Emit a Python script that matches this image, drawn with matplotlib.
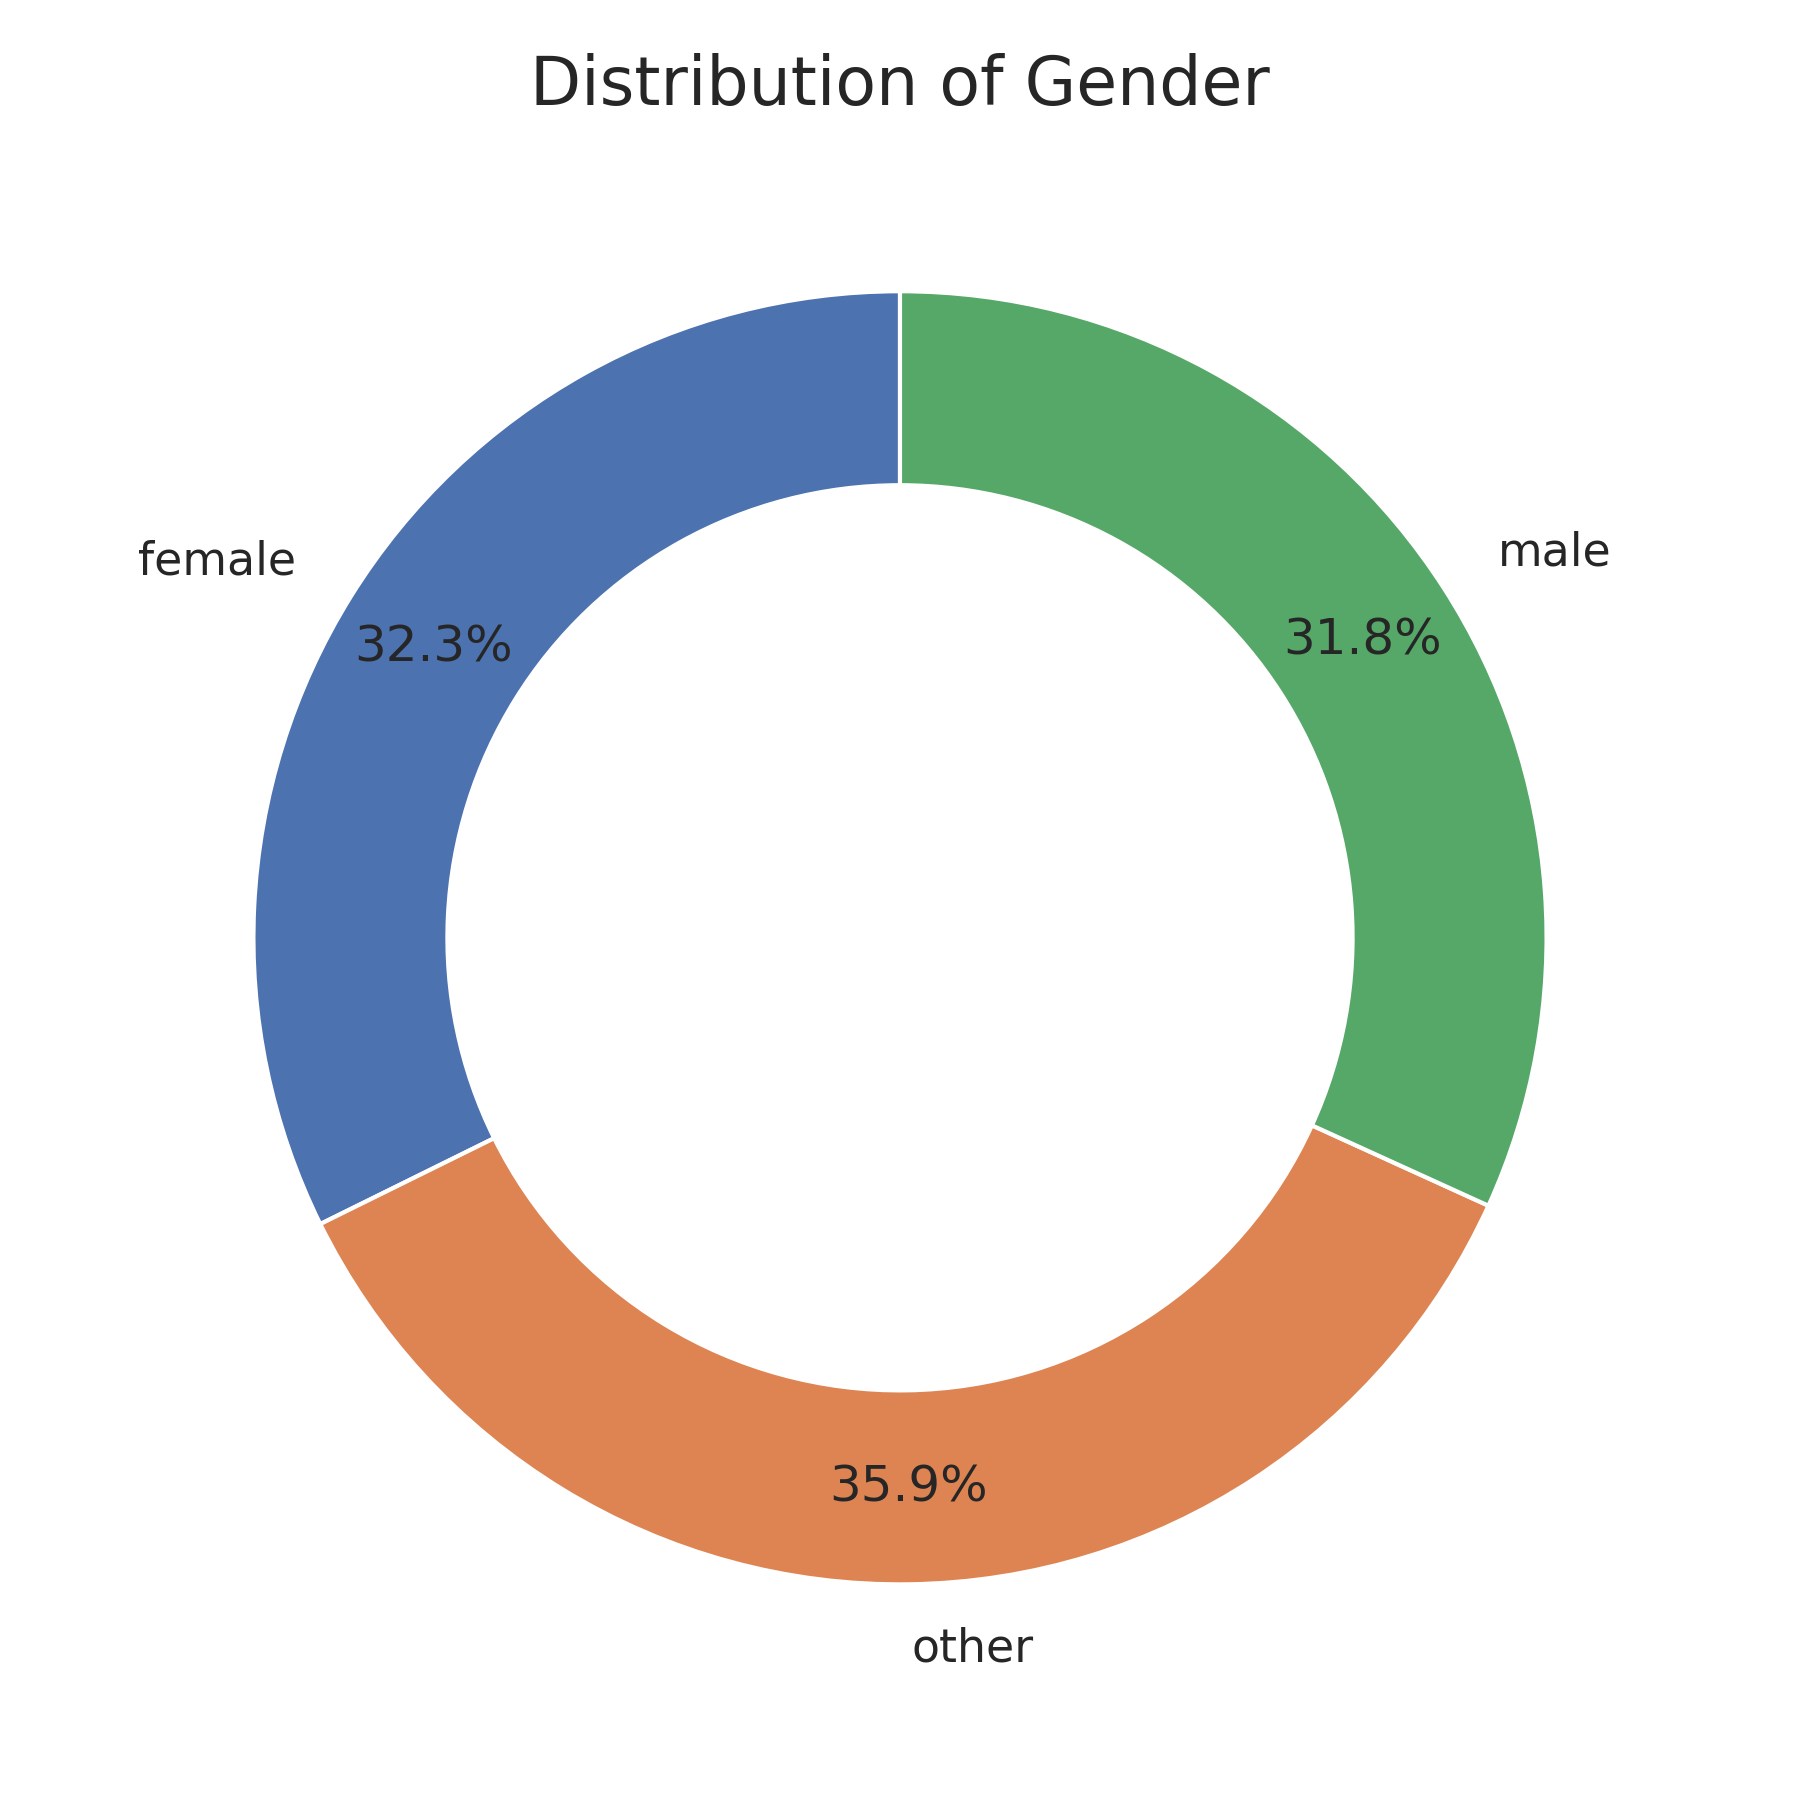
import matplotlib
matplotlib.use("Agg")
import matplotlib.pyplot as plt
import seaborn as sns

sns.set_theme(style="white")
plt.rcParams['font.family'] = ['DejaVu Sans']

labels = ["female", "other", "male"]
shares = [32.3, 35.9, 31.8]
colors = sns.color_palette("deep")[:3]

fig = plt.figure(figsize=(6, 6), dpi=300)
ax = fig.add_axes([0.051, 0.030, 0.898, 0.898])
wedges, texts, autotexts = ax.pie(
    shares, labels=labels, colors=colors, startangle=90,
    autopct="%1.1f%%", pctdistance=0.85, labeldistance=1.1,
    wedgeprops=dict(width=0.3, edgecolor="white", linewidth=1.0),
    textprops=dict(fontsize=11, color="#262626"))
for t in autotexts:
    t.set_fontsize(12)
ax.set_xlim(-1.25, 1.25)
ax.set_ylim(-1.25, 1.25)
ax.set_aspect("equal")
ax.set_title("Distribution of Gender", fontsize=16, color="#262626")
fig.savefig("out.png", dpi=300)
